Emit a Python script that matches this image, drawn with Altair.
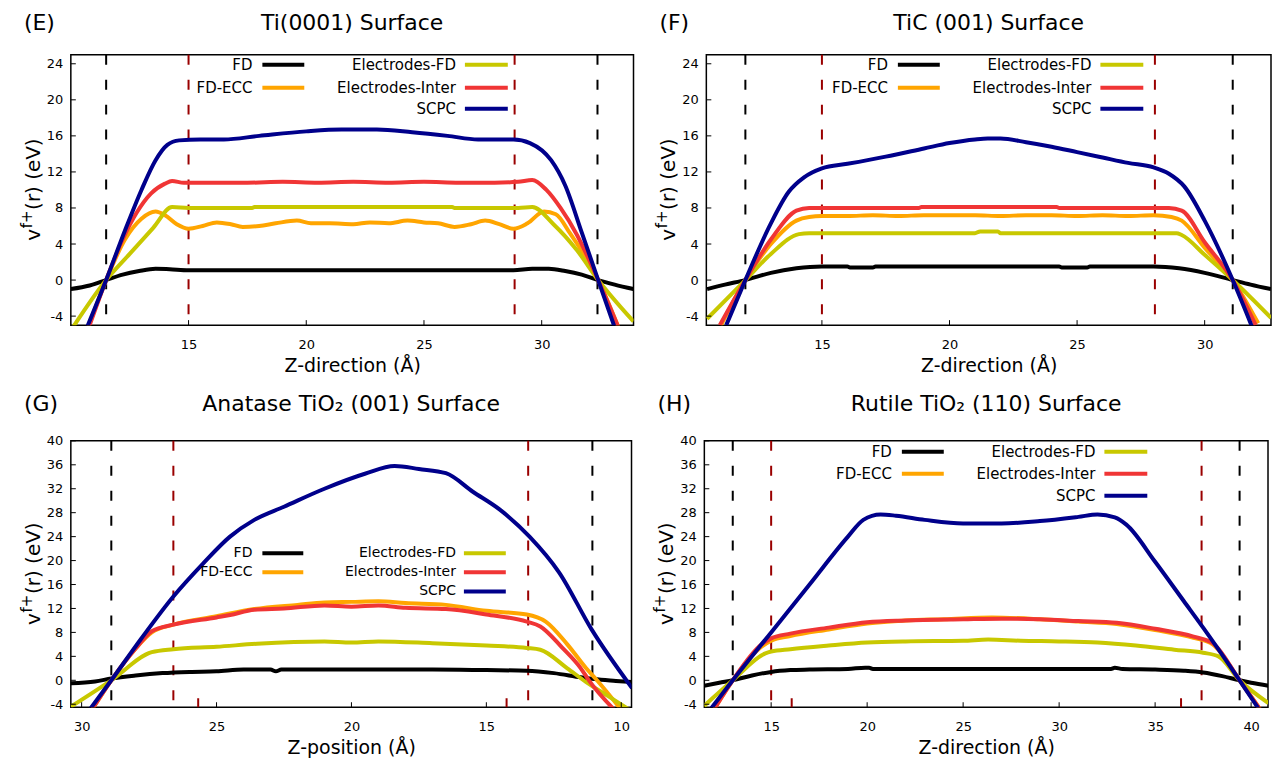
import altair as alt
import pandas as pd

FONT = "DejaVu Sans"

SERIES = ["FD", "FD-ECC", "Electrodes-FD", "Electrodes-Inter", "SCPC"]
COLORS = ["#000000", "#FFA500", "#C8C800", "#F03535", "#00008B"]

# ---------------- (E) Ti(0001) surface ----------------
E_FD_x = [10.0, 10.8, 11.5, 12.2, 12.9, 13.6, 14.2, 15.0, 20.0, 25.0, 28.8, 29.6, 30.3, 31.0, 31.7, 32.4, 33.1, 33.9]
E_FD_y = [-1.0, -0.6, 0.0, 0.6, 1.0, 1.25, 1.2, 1.1, 1.1, 1.1, 1.1, 1.25, 1.25, 1.0, 0.6, 0.0, -0.5, -1.0]
E_ECC_x = [10.7, 11.5, 12.3, 13.0, 13.6, 14.0, 14.5, 15.0, 15.6, 16.2, 16.8, 17.3, 18.0, 18.7, 19.6, 20.2,
           21.0, 22.0, 22.7, 23.5, 24.3, 25.0, 25.6, 26.3, 27.0, 27.6, 28.2, 28.8, 29.4, 30.1, 30.6, 31.2,
           31.8, 32.4, 33.3]
E_ECC_y = [-5.5, 0.0, 4.5, 6.8, 7.6, 7.2, 6.2, 5.7, 6.0, 6.4, 6.2, 5.9, 6.0, 6.3, 6.6, 6.3,
           6.3, 6.2, 6.4, 6.3, 6.6, 6.4, 6.3, 5.9, 6.2, 6.6, 6.2, 5.7, 6.3, 7.6, 7.3, 5.2,
           2.8, 0.0, -5.5]
E_EFD_x = [10.1, 11.5, 12.5, 13.5, 14.3, 15.0, 17.7, 17.8, 26.2, 26.3, 29.0, 29.6, 30.5, 31.5, 32.4, 33.9]
E_EFD_y = [-5.2, 0.0, 2.9, 5.8, 8.1, 8.0, 8.0, 8.1, 8.1, 8.0, 8.0, 8.1, 6.2, 3.3, 0.0, -4.6]
E_EI_x = [10.8, 11.5, 12.2, 12.8, 13.4, 14.0, 14.3, 14.8, 16.0, 17.5, 19.0, 20.5, 22.0, 23.5, 25.0, 26.5,
          28.0, 29.0, 29.6, 30.2, 30.8, 31.5, 32.4, 33.3]
E_EI_y = [-5.0, 0.0, 4.5, 7.5, 9.6, 10.7, 11.0, 10.8, 10.8, 10.8, 10.9, 10.8, 10.9, 10.8, 10.9, 10.8,
          10.8, 10.9, 11.1, 10.0, 8.0, 5.0, 0.0, -5.5]
E_SCPC_x = [10.6, 11.5, 12.3, 13.0, 13.6, 14.1, 14.6, 15.5, 16.5, 18.0, 20.0, 21.5, 23.0, 24.5, 26.0, 27.3,
            28.8, 29.5, 30.4, 31.0, 31.7, 32.4, 33.2]
E_SCPC_y = [-5.8, 0.0, 5.5, 10.0, 13.3, 15.0, 15.5, 15.6, 15.6, 16.0, 16.5, 16.7, 16.7, 16.4, 16.0, 15.6,
            15.6, 15.2, 13.3, 10.5, 5.3, 0.0, -6.0]
E_BLACK = [11.5, 32.37]
E_RED = [15.0, 28.85]

# ---------------- (F) TiC(001) surface ----------------
F_FD_x = [10.5, 11.2, 12.0, 13.0, 14.0, 15.0, 16.0, 16.1, 17.0, 17.1, 24.3, 24.4, 25.4, 25.5, 28.0, 29.0, 30.0, 31.1, 31.8, 32.6]
F_FD_y = [-1.0, -0.5, 0.0, 0.8, 1.3, 1.5, 1.5, 1.4, 1.4, 1.5, 1.5, 1.4, 1.4, 1.5, 1.5, 1.3, 0.8, 0.0, -0.5, -1.0]
F_ECC_x = [11.05, 12.0, 13.0, 14.0, 14.5, 15.0, 16.0, 17.0, 18.0, 19.0, 20.0, 21.0, 22.0, 23.0, 24.0, 25.0,
           26.0, 27.0, 28.0, 28.7, 29.1, 30.0, 31.1, 32.1]
F_ECC_y = [-5.0, 0.0, 4.0, 6.6, 7.0, 7.1, 7.1, 7.2, 7.1, 7.2, 7.2, 7.2, 7.1, 7.2, 7.2, 7.1,
           7.2, 7.1, 7.2, 7.0, 6.6, 3.6, 0.0, -4.8]
F_EFD_x = [10.5, 12.0, 13.0, 14.1, 14.5, 21.0, 21.2, 21.9, 22.0, 28.9, 29.1, 30.0, 31.1, 32.6]
F_EFD_y = [-4.3, 0.0, 2.9, 5.1, 5.2, 5.2, 5.4, 5.4, 5.2, 5.2, 5.0, 2.8, 0.0, -4.2]
F_EI_x = [11.0, 12.0, 13.0, 14.0, 14.5, 15.5, 18.8, 18.9, 24.2, 24.3, 28.6, 29.1, 30.0, 31.1, 32.0]
F_EI_y = [-5.0, 0.0, 4.5, 7.7, 8.0, 8.0, 8.0, 8.1, 8.1, 8.0, 8.0, 7.7, 4.2, 0.0, -5.0]
F_SCPC_x = [11.25, 12.0, 13.0, 13.7, 14.3, 15.0, 16.0, 17.5, 19.0, 20.0, 21.0, 21.5, 22.0, 23.0, 24.0, 25.0,
            26.0, 27.0, 28.0, 28.6, 29.2, 30.0, 31.1, 31.9]
F_SCPC_y = [-5.0, 0.0, 6.3, 9.8, 11.4, 12.4, 12.9, 13.7, 14.6, 15.2, 15.6, 15.7, 15.7, 15.3, 14.8, 14.2,
            13.6, 13.0, 12.5, 11.8, 10.4, 6.6, 0.0, -5.5]
F_BLACK = [12.0, 31.1]
F_RED = [15.0, 28.05]

# ---------------- (G) anatase TiO2(001) surface ----------------
G_FD_x = [30.4, 29.5, 28.9, 28.0, 27.0, 26.0, 25.0, 24.0, 23.0, 22.8, 22.6, 20.0, 17.0, 15.0, 13.5, 12.5, 11.5, 11.0, 10.2, 9.6]
G_FD_y = [-0.5, -0.2, 0.3, 0.8, 1.2, 1.4, 1.5, 1.8, 1.8, 1.5, 1.8, 1.8, 1.8, 1.7, 1.6, 1.2, 0.5, 0.2, -0.1, -0.3]
G_ECC_x = [29.7, 28.9, 28.0, 27.4, 26.6, 25.0, 23.6, 22.0, 21.0, 20.0, 19.0, 18.0, 16.5, 15.0, 13.5, 12.8,
           12.0, 11.3, 10.9, 9.9]
G_ECC_y = [-5.5, 0.0, 5.3, 8.0, 9.3, 10.7, 11.9, 12.6, 13.0, 13.1, 13.2, 12.9, 12.6, 11.6, 11.0, 9.8,
           6.0, 2.0, 0.0, -5.5]
G_EFD_x = [30.4, 28.9, 27.4, 26.6, 25.0, 23.5, 21.0, 20.0, 19.0, 17.0, 15.0, 13.5, 13.0, 12.0, 11.3, 10.5, 9.6]
G_EFD_y = [-4.4, 0.0, 4.7, 5.2, 5.6, 6.1, 6.5, 6.3, 6.5, 6.2, 5.8, 5.4, 5.1, 2.0, -0.3, -2.6, -5.2]
G_EI_x = [29.7, 28.9, 28.0, 27.4, 26.6, 25.0, 24.5, 23.6, 22.5, 21.0, 20.0, 19.0, 18.0, 16.5, 15.0, 13.5,
          13.0, 12.2, 11.5, 11.2, 10.2]
G_EI_y = [-5.5, 0.0, 5.3, 8.2, 9.3, 10.5, 10.9, 11.8, 12.0, 12.5, 12.3, 12.5, 12.1, 11.9, 11.0, 9.8,
          9.0, 5.5, 2.0, 0.0, -5.2]
G_SCPC_x = [29.8, 28.9, 27.8, 26.6, 25.5, 24.5, 23.6, 22.5, 21.0, 19.5, 18.4, 17.5, 16.5, 15.5, 14.5, 13.4,
            12.3, 11.1, 9.6]
G_SCPC_y = [-5.5, 0.0, 6.9, 14.0, 19.5, 24.0, 26.8, 29.0, 32.0, 34.5, 35.8, 35.3, 34.6, 31.5, 28.5, 24.0,
            18.0, 8.5, -1.3]
G_BLACK = [28.9, 11.07]
G_RED = [26.6, 13.45]
G_RED_SHORT = [25.68, 14.25]

# ---------------- (H) rutile TiO2(110) surface ----------------
H_FD_x = [11.5, 12.3, 13.0, 14.0, 15.0, 16.0, 17.0, 19.0, 19.9, 20.1, 20.3, 25.0, 30.0, 32.7, 32.9, 33.3,
          35.0, 36.5, 37.5, 38.5, 39.4, 40.0, 40.9]
H_FD_y = [-0.9, -0.4, 0.0, 0.8, 1.4, 1.7, 1.8, 1.9, 2.1, 2.1, 1.9, 1.9, 1.9, 1.9, 2.1, 1.9,
          1.8, 1.6, 1.3, 0.7, 0.0, -0.4, -0.9]
H_ECC_x = [12.0, 13.0, 14.5, 15.0, 16.0, 18.0, 20.0, 22.0, 24.0, 26.5, 29.0, 31.0, 33.0, 35.0, 37.0, 38.0, 39.4, 40.5]
H_ECC_y = [-5.0, 0.0, 5.6, 6.6, 7.4, 8.5, 9.5, 10.0, 10.2, 10.5, 10.2, 9.8, 9.4, 8.4, 7.1, 6.0, 0.0, -5.0]
H_EFD_x = [11.5, 13.0, 14.7, 15.0, 16.0, 18.0, 20.0, 22.0, 25.0, 26.3, 28.0, 30.0, 32.0, 34.0, 36.0, 37.5,
           38.3, 39.4, 40.9]
H_EFD_y = [-4.3, 0.0, 4.5, 4.8, 5.2, 5.8, 6.3, 6.5, 6.6, 6.8, 6.6, 6.5, 6.3, 5.8, 5.1, 4.6,
           4.0, 0.0, -3.8]
H_EI_x = [12.0, 13.0, 14.5, 15.0, 16.0, 18.0, 20.0, 22.0, 25.0, 27.0, 29.0, 31.0, 33.0, 35.0, 37.0, 38.0, 39.4, 40.5]
H_EI_y = [-5.0, 0.0, 6.0, 7.0, 7.8, 8.8, 9.7, 10.0, 10.2, 10.3, 10.2, 9.9, 9.6, 8.6, 7.3, 6.2, 0.0, -5.0]
H_SCPC_x = [11.8, 13.0, 15.0, 17.0, 19.0, 19.8, 20.7, 21.5, 23.0, 25.0, 27.0, 29.0, 31.0, 32.0, 32.9, 33.5,
            35.0, 36.5, 37.5, 39.4, 40.4]
H_SCPC_y = [-5.0, 0.0, 8.0, 16.0, 24.0, 26.8, 27.7, 27.5, 26.8, 26.2, 26.2, 26.6, 27.3, 27.7, 27.2, 26.0,
            19.8, 13.2, 8.8, 0.0, -4.8]
H_BLACK = [13.0, 39.4]
H_RED = [15.0, 37.42]
H_RED_SHORT = [16.07, 36.35]

Y_TICKS_SMALL = [-4, 0, 4, 8, 12, 16, 20, 24]
Y_TICKS_LARGE = [-4, 0, 4, 8, 12, 16, 20, 24, 28, 32, 36, 40]

# y title pieces: v, superscript f+, (r) (eV)
YT_MAIN, YT_SUP, YT_REST = "v", "f+", "(r) (eV)"
YT_SIZE, YT_SUP_SIZE = 20, 15


def panel(tag, title, xtitle, xdom, xticks, ydom, yticks, curves, black, red, red_short,
          width, height, reverse, legend, title_y):
    xscale = alt.Scale(domain=xdom, nice=False, zero=False, reverse=reverse)
    yscale = alt.Scale(domain=ydom, nice=False, zero=False)
    xaxis = alt.Axis(values=xticks, title=xtitle, ticks=False, domain=False, grid=False,
                     labelFontSize=13, labelPadding=13, titleFontSize=19, titlePadding=5,
                     labelExpr="'' + datum.value")
    yaxis = alt.Axis(values=yticks, title=None, ticks=False, domain=False, grid=False,
                     labelFontSize=13, labelPadding=8, labelExpr="'' + datum.value")
    X = alt.X("z:Q", scale=xscale, axis=xaxis)
    Y = alt.Y("v:Q", scale=yscale, axis=yaxis)
    layers = []

    # vertical reference lines
    layers.append(alt.Chart(pd.DataFrame({"z": black})).mark_rule(
        color="black", strokeWidth=2, strokeDash=[10, 15]).encode(x=X))
    layers.append(alt.Chart(pd.DataFrame({"z": red})).mark_rule(
        color="#9A0000", strokeWidth=2, strokeDash=[10, 15]).encode(x=X))
    if red_short:
        layers.append(alt.Chart(pd.DataFrame({"z": red_short})).mark_rule(
            color="#9A0000", strokeWidth=2).encode(
            x=X, y=alt.value(height), y2=alt.value(height - 9)))

    # curves, drawn in key order
    for i, (name, (xs, ys)) in enumerate(zip(SERIES, curves)):
        df = pd.DataFrame({"z": xs, "v": ys, "k": list(range(len(xs)))})
        layers.append(alt.Chart(df).mark_line(
            color=COLORS[i], strokeWidth=4, clip=True, strokeJoin="round",
            interpolate="monotone").encode(x=X, y=Y, order="k:Q"))

    # inward tick marks
    layers.append(alt.Chart(pd.DataFrame({"z": xticks})).mark_rule(
        color="black", strokeWidth=1).encode(
        x=X, y=alt.value(height), y2=alt.value(height - 5)))
    layers.append(alt.Chart(pd.DataFrame({"v": yticks})).mark_rule(
        color="black", strokeWidth=1).encode(
        y=Y, x=alt.value(0), x2=alt.value(5)))

    # key: label to the left of its line sample, two columns
    c1, c1a, c1b, c2, c2a, c2b, rows, fsize = legend
    slots = [(c1, c1a, c1b, rows[0]), (c1, c1a, c1b, rows[1]),
             (c2, c2a, c2b, rows[0]), (c2, c2a, c2b, rows[1]), (c2, c2a, c2b, rows[2])]
    for i, (name, (tx, la, lb, ry)) in enumerate(zip(SERIES, slots)):
        lab = pd.DataFrame({"t": [name]})
        layers.append(alt.Chart(lab).mark_text(
            align="right", baseline="middle", font=FONT, fontSize=fsize, color="black").encode(
            text="t:N", x=alt.value(tx), y=alt.value(ry)))
        layers.append(alt.Chart(lab).mark_rule(color=COLORS[i], strokeWidth=4).encode(
            x=alt.value(la), x2=alt.value(lb), y=alt.value(ry)))

    # rotated y title with a raised superscript
    y0 = height / 2 + 51
    ytxt = pd.DataFrame({"a": [YT_MAIN], "b": [YT_SUP], "c": [YT_REST]})
    common = dict(align="left", baseline="alphabetic", font=FONT, angle=270, color="black")
    layers.append(alt.Chart(ytxt).mark_text(fontSize=YT_SIZE, **common).encode(
        text="a:N", x=alt.value(-31), y=alt.value(y0)))
    layers.append(alt.Chart(ytxt).mark_text(fontSize=YT_SUP_SIZE, **common).encode(
        text="b:N", x=alt.value(-39), y=alt.value(y0 - 12.5)))
    layers.append(alt.Chart(ytxt).mark_text(fontSize=YT_SIZE, **common).encode(
        text="c:N", x=alt.value(-31), y=alt.value(y0 - 31)))

    # panel heading and tag
    head = pd.DataFrame({"t": [title], "g": [tag]})
    layers.append(alt.Chart(head).mark_text(
        align="center", baseline="alphabetic", font=FONT, fontSize=22, color="black").encode(
        text="t:N", x=alt.value(width / 2), y=alt.value(title_y)))
    layers.append(alt.Chart(head).mark_text(
        align="left", baseline="alphabetic", font=FONT, fontSize=22, color="black").encode(
        text="g:N", x=alt.value(-47), y=alt.value(title_y)))

    return alt.layer(*layers).properties(width=width, height=height)


LEG_TOP = (182, 192, 234, 386, 395, 438, (10, 33, 54), 15)
LEG_G = (182, 192, 233, 386, 394, 436, (112.7, 131.7, 151), 14)
LEG_H = (188, 198, 240, 392, 401, 444, (11, 33, 55), 15)

pE = panel("(E)", "Ti(0001) Surface", "Z-direction (Å)", [10.0, 33.9], [15, 20, 25, 30],
           [-5, 25], Y_TICKS_SMALL,
           [(E_FD_x, E_FD_y), (E_ECC_x, E_ECC_y), (E_EFD_x, E_EFD_y), (E_EI_x, E_EI_y), (E_SCPC_x, E_SCPC_y)],
           E_BLACK, E_RED, None, 564, 271, False, LEG_TOP, -25)
pF = panel("(F)", "TiC (001) Surface", "Z-direction (Å)", [10.47, 32.6], [15, 20, 25, 30],
           [-5, 25], Y_TICKS_SMALL,
           [(F_FD_x, F_FD_y), (F_ECC_x, F_ECC_y), (F_EFD_x, F_EFD_y), (F_EI_x, F_EI_y), (F_SCPC_x, F_SCPC_y)],
           F_BLACK, F_RED, None, 566, 271, False, LEG_TOP, -25)
pG = panel("(G)", "Anatase TiO₂ (001) Surface", "Z-position (Å)", [9.62, 30.4], [30, 25, 20, 15, 10],
           [-4.5, 40], Y_TICKS_LARGE,
           [(G_FD_x, G_FD_y), (G_ECC_x, G_ECC_y), (G_EFD_x, G_EFD_y), (G_EI_x, G_EI_y), (G_SCPC_x, G_SCPC_y)],
           G_BLACK, G_RED, G_RED_SHORT, 562, 267, True, LEG_G, -30)
pH = panel("(H)", "Rutile TiO₂ (110) Surface", "Z-direction (Å)", [11.52, 40.88], [15, 20, 25, 30, 35, 40],
           [-4.5, 40], Y_TICKS_LARGE,
           [(H_FD_x, H_FD_y), (H_ECC_x, H_ECC_y), (H_EFD_x, H_EFD_y), (H_EI_x, H_EI_y), (H_SCPC_x, H_SCPC_y)],
           H_BLACK, H_RED, H_RED_SHORT, 565, 267, False, LEG_H, -30)

chart = alt.vconcat(
    alt.hconcat(pE, pF, spacing=20),
    alt.hconcat(pG, pH, spacing=20),
    spacing=16,
).properties(
    padding={"left": 19, "top": 10, "right": 0, "bottom": 0},
    background="white",
).configure_view(
    stroke="black", strokeWidth=1.5,
).configure_axis(
    labelFont=FONT, titleFont=FONT, labelColor="black", titleColor="black",
    titleFontWeight="normal",
)

chart.save("out.html", embed_options={"renderer": "svg", "actions": False})
